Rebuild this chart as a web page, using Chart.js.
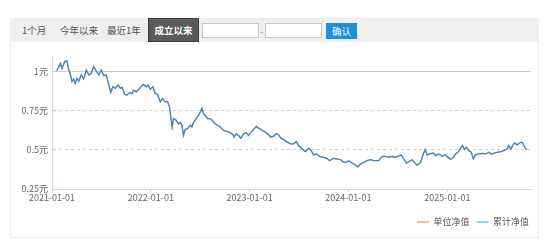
<!DOCTYPE html>
<html><head><meta charset="utf-8">
<script src="https://cdn.jsdelivr.net/npm/chart.js@4/dist/chart.umd.min.js"></script>
<style>
html,body{margin:0;padding:0;background:#fff;width:554px;height:243px;overflow:hidden;font-family:"Noto Sans CJK SC",sans-serif;}
#panel{position:absolute;left:10px;top:18px;width:529px;height:220px;border:1px solid #ececec;border-top:none;box-sizing:border-box;}
#bar{position:absolute;left:10px;top:18px;width:529px;height:24px;background:#efefef;}
.t{position:absolute;top:0;height:24px;line-height:24px;font-size:9.5px;color:#555;white-space:nowrap;}
#act{position:absolute;left:148px;top:18px;width:51px;height:24px;background:#5a5a5a;border:1px solid #3c3c3c;box-sizing:border-box;color:#fff;font-weight:bold;font-size:9.5px;line-height:22px;text-align:center;}
.inp{position:absolute;top:23px;width:57px;height:15px;background:#fff;border:1px solid #c8c8c8;box-sizing:border-box;}
#ok{position:absolute;left:326px;top:23px;width:31px;height:16px;background:#1e8fda;color:#fff;font-size:9.5px;line-height:16px;text-align:center;}
#cw{position:absolute;left:10px;top:42px;width:529px;height:196px;}
</style></head><body>
<div id="panel"></div>
<div id="bar">
  <span class="t" style="left:12px">1个月</span>
  <span class="t" style="left:50px">今年以来</span>
  <span class="t" style="left:97px">最近1年</span>
</div>
<div id="act">成立以来</div>
<div class="inp" style="left:202px"></div>
<span class="t" style="left:260px;top:19px;color:#999">-</span>
<div class="inp" style="left:265px"></div>
<div id="ok">确认</div>
<div id="cw"><canvas id="c" width="529" height="196"></canvas></div>
<script>
const dates = [
'2021-01-19','2021-02-01','2021-02-07','2021-02-17','2021-02-25','2021-03-04','2021-03-10','2021-03-16','2021-03-22','2021-03-28',
'2021-04-03','2021-04-10','2021-04-19','2021-04-28','2021-05-08','2021-05-17','2021-05-26','2021-06-04','2021-06-13','2021-06-23',
'2021-07-02','2021-07-11','2021-07-20','2021-07-27','2021-08-06','2021-08-14','2021-08-23','2021-09-02','2021-09-11','2021-09-17',
'2021-09-27','2021-10-05','2021-10-14','2021-10-24','2021-10-29','2021-11-08','2021-11-16','2021-11-25','2021-12-05','2021-12-15',
'2021-12-23','2021-12-30','2022-01-09','2022-01-17','2022-01-26','2022-02-05','2022-02-13','2022-02-23','2022-03-04','2022-03-11',
'2022-03-16','2022-03-21','2022-03-26','2022-04-05','2022-04-13','2022-04-20','2022-04-26','2022-05-02','2022-05-08','2022-05-17',
'2022-05-27','2022-06-02','2022-06-08','2022-06-14','2022-06-20','2022-06-26','2022-07-03','2022-07-09','2022-07-15','2022-07-21',
'2022-07-30','2022-08-09','2022-08-19','2022-08-27','2022-09-05','2022-09-15','2022-09-27','2022-10-09','2022-10-22','2022-11-01',
'2022-11-05','2022-11-13','2022-11-21','2022-11-30','2022-12-10','2022-12-20','2022-12-28','2023-01-06','2023-01-16','2023-01-26',
'2023-02-03','2023-02-12','2023-02-22','2023-03-04','2023-03-12','2023-03-21','2023-03-31','2023-04-10','2023-04-18','2023-04-27',
'2023-05-07','2023-05-17','2023-05-25','2023-06-01','2023-06-13','2023-06-23','2023-07-01','2023-07-14','2023-07-26','2023-08-07',
'2023-08-16','2023-08-26','2023-09-05','2023-09-17','2023-10-02','2023-10-14','2023-10-24','2023-11-06','2023-11-20','2023-12-03',
'2023-12-13','2023-12-25','2024-01-02','2024-01-15','2024-01-27','2024-02-05','2024-02-15','2024-02-27','2024-03-10','2024-03-23',
'2024-04-04','2024-04-22','2024-05-05','2024-05-17','2024-05-29','2024-06-11','2024-06-19','2024-07-02','2024-07-14','2024-07-24',
'2024-08-03','2024-08-11','2024-08-24','2024-09-01','2024-09-11','2024-09-24','2024-10-04','2024-10-11','2024-10-18','2024-10-28',
'2024-11-10','2024-11-18','2024-11-30','2024-12-13','2024-12-25','2025-01-03','2025-01-13','2025-01-23','2025-01-31','2025-02-09',
'2025-02-19','2025-02-26','2025-03-05','2025-03-13','2025-03-21','2025-03-30','2025-04-07','2025-04-15','2025-04-27','2025-05-10',
'2025-05-22','2025-06-03','2025-06-12','2025-06-24','2025-07-07','2025-07-19','2025-07-29','2025-08-10','2025-08-16','2025-08-23',
'2025-08-29','2025-09-06','2025-09-16','2025-09-26','2025-10-05','2025-10-11','2025-10-17','2025-10-21'
];
// 累计净值 (accumulated NAV)
const accNav = [
1.006,1.054,1.02,1.064,1.069,1.01,0.98,0.936,0.953,0.925,
0.957,0.94,0.979,0.953,1.01,0.979,0.99,1.032,1.004,0.979,
1.01,0.974,0.979,0.936,0.867,0.903,0.893,0.914,0.893,0.90,
0.854,0.85,0.867,0.86,0.882,0.871,0.882,0.903,0.919,0.903,
0.914,0.888,0.903,0.86,0.854,0.807,0.828,0.807,0.81,0.775,
0.71,0.646,0.70,0.689,0.667,0.675,0.657,0.592,0.631,0.635,
0.657,0.646,0.678,0.689,0.704,0.721,0.742,0.766,0.73,0.721,
0.70,0.70,0.682,0.667,0.657,0.646,0.624,0.618,0.61,0.597,
0.581,0.603,0.592,0.575,0.603,0.61,0.592,0.61,0.631,0.65,
0.639,0.631,0.618,0.61,0.597,0.581,0.588,0.603,0.597,0.575,
0.566,0.553,0.545,0.539,0.539,0.553,0.528,0.507,0.489,0.51,
0.496,0.468,0.474,0.459,0.452,0.446,0.431,0.446,0.442,0.437,
0.424,0.42,0.431,0.416,0.403,0.392,0.41,0.42,0.431,0.437,
0.431,0.431,0.459,0.459,0.452,0.459,0.452,0.459,0.468,0.442,
0.416,0.424,0.437,0.42,0.403,0.42,0.474,0.502,0.468,0.474,
0.48,0.463,0.474,0.459,0.468,0.452,0.44,0.452,0.474,0.485,
0.51,0.528,0.502,0.517,0.496,0.485,0.442,0.468,0.474,0.477,
0.474,0.485,0.474,0.48,0.485,0.489,0.496,0.507,0.528,0.505,
0.524,0.545,0.532,0.545,0.549,0.528,0.51,0.502
];
// 单位净值 (unit NAV) — coincides with the accumulated NAV in the picture (hidden under it)
const unitNav = accNav;
const seriesNames = ['单位净值','累计净值'];
const xTickLabels = ['2021-01-01','2022-01-01','2023-01-01','2024-01-01','2025-01-01'];
const yTicks = [0.25,0.5,0.75,1];
const yTickLabels = ['0.25元','0.5元','0.75元','1元'];
const xEndDate = '2025-11-06';

const DAY = 86400000;
const t0 = Date.parse(xTickLabels[0]);
const toX = s => (Date.parse(s) - t0) / DAY;
const pts = arr => arr.map((v,i) => ({x: toX(dates[i]), y: v}));
const FONT = '"Noto Sans CJK SC", sans-serif';
const axisCol = '#ccd6eb';

new Chart(document.getElementById('c'), {
  type: 'line',
  data: {
    datasets: [
      {label: seriesNames[0], data: pts(unitNav), borderColor: '#f4a07c', borderWidth: 1.3, pointRadius: 0, tension: 0, order: 1},
      {label: seriesNames[1], data: pts(accNav), borderColor: '#3a8bc7', borderWidth: 1.3, pointRadius: 0, tension: 0, order: 0}
    ]
  },
  options: {
    responsive: false, animation: false, devicePixelRatio: 1,
    layout: {padding: {top: 14, right: 3, left: 0, bottom: 1.5}},
    plugins: {
      tooltip: {enabled: false},
      legend: {
        position: 'bottom', align: 'end',
        labels: {
          usePointStyle: true, pointStyleWidth: 12, padding: 7, color: '#555',
          font: {family: FONT, size: 9},
          generateLabels: () => [
            {text: seriesNames[0], pointStyle: 'line', strokeStyle: '#f9a47e', fillStyle: '#f9a47e', lineWidth: 1.5, fontColor: '#555', datasetIndex: 0, hidden: false},
            {text: seriesNames[1], pointStyle: 'line', strokeStyle: '#6ec1ef', fillStyle: '#6ec1ef', lineWidth: 1.5, fontColor: '#555', datasetIndex: 1, hidden: false}
          ]
        }
      }
    },
    scales: {
      x: {
        type: 'linear', min: 0, max: toX(xEndDate),
        afterBuildTicks: s => { s.ticks = xTickLabels.map(d => ({value: toX(d)})); },
        afterFit: s => { s.height = 21.5; },
        ticks: {
          color: '#666', font: {family: FONT, size: 9}, padding: 0, maxRotation: 0, autoSkip: false,
          callback: (v, i) => xTickLabels[i]
        },
        grid: {drawOnChartArea: false, drawTicks: true, tickLength: 3, tickColor: axisCol},
        border: {color: axisCol, width: 1}
      },
      y: {
        type: 'linear', min: 0.25, max: 1.1,
        afterBuildTicks: s => { s.ticks = yTicks.map(v => ({value: v})); },
        afterFit: s => { s.width = 42; },
        ticks: {
          color: '#666', font: {family: FONT, size: 9}, padding: 4,
          callback: (v, i) => yTickLabels[i]
        },
        grid: {
          drawTicks: false, lineWidth: 1,
          color: ctx => (ctx.tick && ctx.tick.value === 0.25) ? 'rgba(0,0,0,0)' : '#cfcfcf'
        },
        border: {
          color: axisCol, width: 1,
          dash: ctx => (ctx.tick && ctx.tick.value === 1) ? [] : [3, 3]
        }
      },
      y2: {
        type: 'linear', position: 'right', display: true,
        grid: {display: false}, border: {display: false}, ticks: {display: false},
        afterFit: s => { s.width = 5; }
      }
    }
  }
});
</script>
</body></html>
